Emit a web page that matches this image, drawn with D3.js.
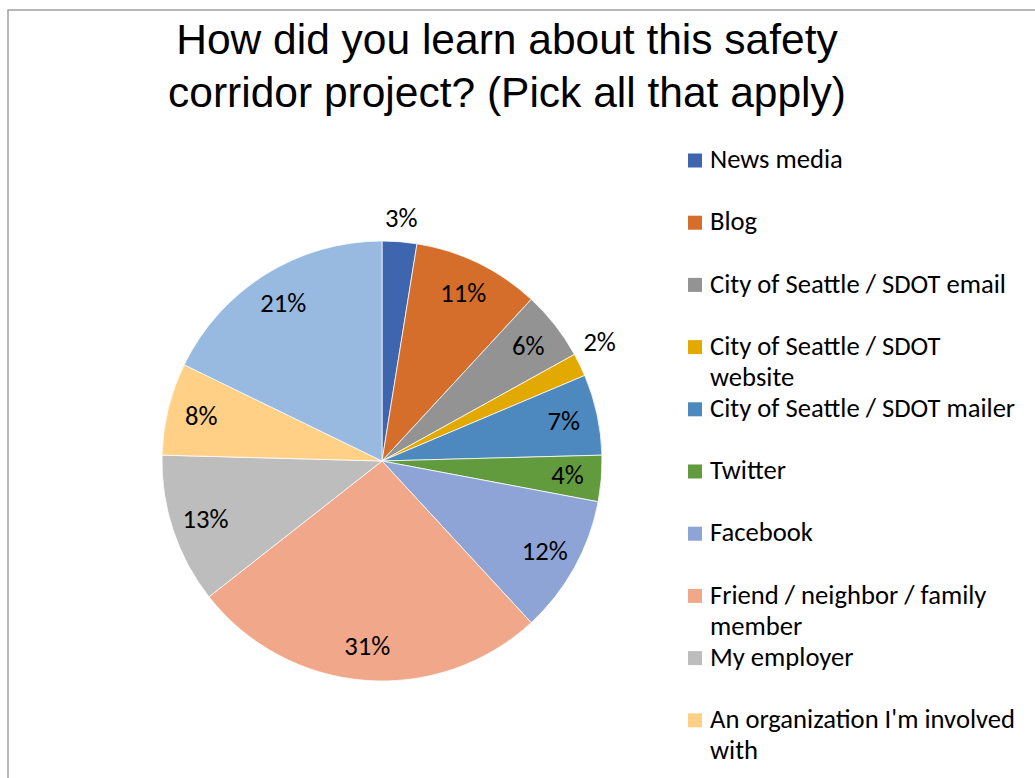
<!DOCTYPE html>
<html>
<head>
<meta charset="utf-8">
<script src="https://cdn.jsdelivr.net/npm/d3@7"></script>
<style>
  html, body { margin: 0; padding: 0; background: #fff; }
  svg { display: block; }
</style>
</head>
<body>
<svg id="chart" width="1035" height="778"></svg>
<script>
// Survey responses: "How did you learn about this safety corridor project?"
const titleLines = [
  "How did you learn about this safety",
  "corridor project? (Pick all that apply)"
];
const categories = [
  "News media",
  "Blog",
  "City of Seattle / SDOT email",
  "City of Seattle / SDOT\nwebsite",
  "City of Seattle / SDOT mailer",
  "Twitter",
  "Facebook",
  "Friend / neighbor / family\nmember",
  "My employer",
  "An organization I'm involved\nwith",
  "Other"
];
const percents = [3, 11, 6, 2, 7, 4, 12, 31, 13, 8, 21];
const colors = [
  "#3d66ae", "#d56e2b", "#939393", "#e2aa00", "#4d88bf", "#629a3e",
  "#8fa4d6", "#f1a88a", "#bdbdbd", "#ffd086", "#98b9e0"
];

const svg = d3.select("#chart");
const W = 1035, H = 778;

// chart frame
svg.append("rect")
  .attr("x", 8).attr("y", 10)
  .attr("width", W + 20).attr("height", H + 20)
  .attr("fill", "#fff")
  .attr("stroke", "#a0a0a0")
  .attr("stroke-width", 1.5);

// title
const title = svg.append("text")
  .attr("text-anchor", "middle")
  .attr("font-family", "'Liberation Sans', Arial, sans-serif")
  .attr("font-size", 42.5)
  .attr("fill", "#000");
title.selectAll("tspan")
  .data(titleLines)
  .join("tspan")
  .attr("x", 507)
  .attr("y", (d, i) => 53.5 + i * 53)
  .text(d => d);

// body font, sized so the legend reads at the intended width
const bodyFont = "Carlito, Calibri, Lato, sans-serif";
const probe = svg.append("text")
  .attr("font-family", bodyFont)
  .attr("font-size", 26.5)
  .text("City of Seattle / SDOT email");
const natural = probe.node().getComputedTextLength();
probe.remove();
const fs = 26.5 * 296 / natural;

// pie
const cx = 382, cy = 461, R = 220;
const pie = d3.pie().sort(null).value(d => d.v);
const arcs = pie(percents.map((v, i) => ({ v, i })));
const arc = d3.arc().innerRadius(0).outerRadius(R);

const g = svg.append("g").attr("transform", `translate(${cx},${cy})`);
g.selectAll("path")
  .data(arcs)
  .join("path")
  .attr("d", arc)
  .attr("fill", d => colors[d.data.i])
  .attr("stroke", "#ffffff")
  .attr("stroke-width", 0.75);

// data labels: inside near the rim, small slices pushed outside
const inner = d3.arc().innerRadius(186).outerRadius(186);
const outer = d3.arc().innerRadius(R + 22).outerRadius(R + 22);
g.selectAll("text.lbl")
  .data(arcs)
  .join("text")
  .attr("class", "lbl")
  .attr("font-family", bodyFont)
  .attr("font-size", fs)
  .attr("fill", "#000")
  .attr("text-anchor", "middle")
  .each(function(d) {
    const isOut = d.data.v <= 3;
    const p = (isOut ? outer : inner).centroid(d);
    const mid = (d.startAngle + d.endAngle) / 2;
    // outside labels on the side of the pie sit a little higher
    const lift = isOut ? 14 * Math.abs(Math.sin(mid)) : 0;
    d3.select(this)
      .attr("x", p[0])
      .attr("y", p[1] + fs * 0.32 - lift);
  })
  .text(d => d.data.v + "%");

// legend, clipped to the chart area (entries past the bottom edge are hidden)
const legendX = 688, legendY0 = 160.5, legendStep = 62.2, lineH = 31;
svg.append("clipPath").attr("id", "legend-clip")
  .append("rect")
  .attr("x", 670).attr("y", 130)
  .attr("width", 365).attr("height", 640);
const lg = svg.append("g").attr("clip-path", "url(#legend-clip)");
const items = lg.selectAll("g")
  .data(categories.filter((d, i) => legendY0 + i * legendStep - 7 < 770))
  .join("g")
  .attr("transform", (d, i) => `translate(${legendX},${legendY0 + i * legendStep})`);
items.append("rect")
  .attr("x", 0).attr("y", -7)
  .attr("width", 14).attr("height", 14)
  .attr("fill", (d, i) => colors[i]);
items.append("text")
  .attr("font-family", bodyFont)
  .attr("font-size", fs)
  .attr("fill", "#000")
  .selectAll("tspan")
  .data(d => d.split("\n"))
  .join("tspan")
  .attr("x", 22)
  .attr("y", (d, i) => fs * 0.29 + i * lineH)
  .text(d => d);
</script>
</body>
</html>
